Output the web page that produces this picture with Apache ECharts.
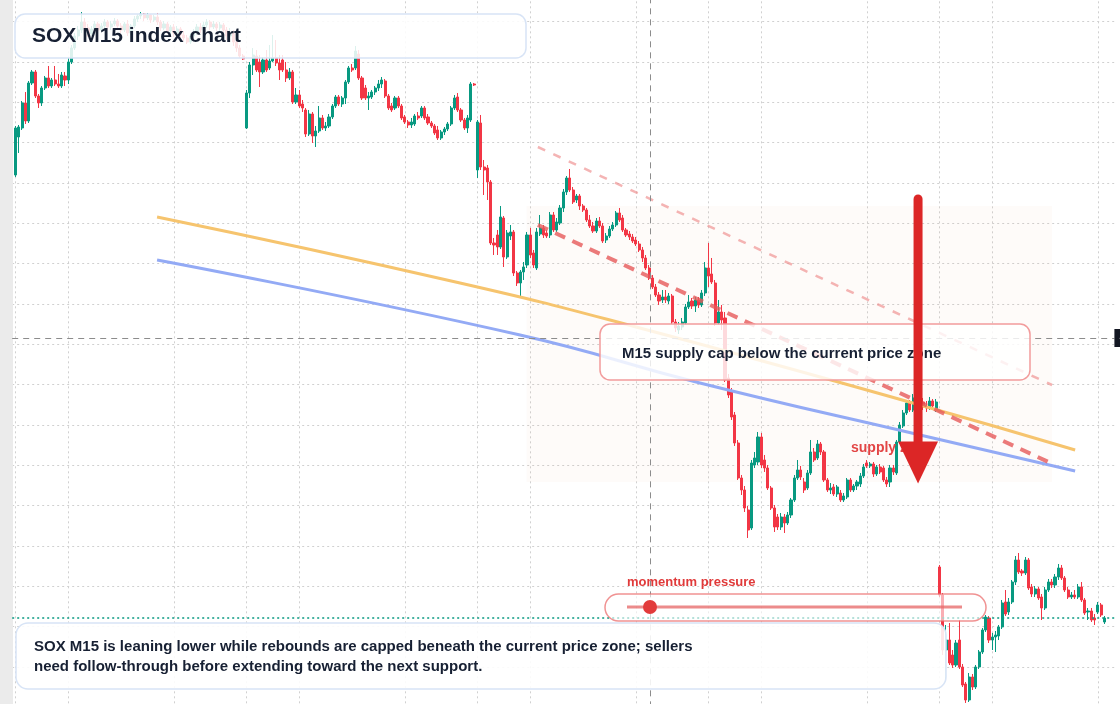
<!DOCTYPE html>
<html>
<head>
<meta charset="utf-8">
<title>SOX M15 index chart</title>
<script src="https://cdn.jsdelivr.net/npm/echarts@6/dist/echarts.min.js"></script>
<style>
  html, body { margin: 0; padding: 0; background: #fff; }
  #chart { width: 1120px; height: 704px; }
</style>
</head>
<body>
<div id="chart"></div>
<script>
// candles: [open, close, low, high]
var sessionA = [
  [4848,4895,4846,4897],[4886,4896,4870,4898],[4895,4920,4893,4922],[4920,4902,4899,4931],[4902,4940,4900,4942],
  [4940,4951,4938,4953],[4951,4927,4925,4953],[4927,4920,4915,4929],[4920,4935,4917,4937],[4935,4945,4933,4947],
  [4945,4937,4935,4957],[4937,4943,4935,4945],[4943,4939,4937,4957],[4939,4937,4935,4949],[4937,4948,4935,4951],
  [4947,4943,4937,4951],[4943,4961,4939,4965],[4961,4975,4959,4978],[4975,4987,4973,4990],[4987,4993,4983,4997],
  [4993,5001,4990,5011],[5001,4995,4992,5005],[4995,4989,4986,4999],[4989,4994,4987,4997],[4994,4999,4992,5002],
  [4999,4993,4990,5001],[4993,4997,4991,5000],[4997,5001,4994,5004],[5001,4996,4993,5003],[4996,4999,4993,5002],
  [4999,5002,4997,5005],[5002,4997,4995,5004],[4997,4993,4990,5000],[4993,4999,4991,5001],[4999,4990,4987,5003],
  [4990,4997,4988,4999],[4997,5004,4995,5007],[5004,5007,5001,5009],[5007,5009,5004,5011],[5009,5005,5002,5010],
  [5005,5008,5003,5010],[5008,5003,5000,5009],[5003,5006,5001,5008],[5006,5001,4998,5010],[5001,4995,4992,5003],
  [4995,4999,4993,5002],[4999,4992,4989,5001],[4992,4996,4988,4998],[4996,4990,4986,4999],[4990,4994,4987,4997],
  [4994,4988,4985,4996],[4988,4985,4982,4992],[4985,4981,4979,4988],[4981,4987,4979,4990],[4987,4991,4985,4994],
  [4991,4996,4988,4999],[4996,4993,4990,5000],[4993,4998,4991,5001],[4998,5001,4995,5004],[5001,4996,4993,5003],
  [4996,4999,4994,5002],[4999,4995,4992,5001],[4995,4998,4992,5001],[4998,4993,4990,5000],[4993,4987,4983,4996],
  [4987,4990,4981,4995],[4990,4981,4977,4993],[4981,4975,4971,4985],[4975,4967,4965,4978],[4967,4964,4963,4969]
];
var sessionB = [
  [4895,4930,4894,4933],[4930,4958,4925,4961],[4958,4968,4948,4975],[4967,4953,4951,4973],[4961,4951,4936,4968],
  [4951,4963,4949,4966],[4963,4953,4951,4973],[4955,4962,4953,4978],[4962,4965,4961,4988],[4965,4960,4957,4983],
  [4960,4953,4943,4968],[4963,4953,4951,4968],[4953,4945,4941,4961],[4945,4951,4943,4955],[4951,4921,4919,4953],
  [4921,4928,4919,4935],[4928,4917,4915,4933],[4919,4915,4911,4923],[4913,4889,4886,4915],[4889,4909,4887,4913],
  [4909,4887,4880,4911],[4887,4892,4876,4897],[4892,4905,4890,4917],[4905,4895,4893,4908],[4895,4897,4892,4901],
  [4897,4906,4895,4909],[4906,4917,4904,4919],[4917,4926,4915,4928],[4926,4919,4917,4928],[4919,4925,4916,4927],
  [4925,4941,4919,4943],[4941,4955,4939,4957],[4955,4953,4951,4959],[4955,4972,4953,4977],[4969,4945,4943,4973],
  [4945,4925,4923,4947],[4935,4925,4923,4938],[4925,4927,4913,4931],[4926,4931,4924,4933],[4931,4935,4928,4937],
  [4935,4939,4932,4943],[4939,4943,4935,4946],[4942,4927,4925,4944],[4927,4915,4913,4929],[4917,4913,4911,4920],
  [4915,4925,4913,4927],[4925,4917,4915,4927],[4917,4905,4903,4919],[4906,4901,4899,4908],[4901,4898,4895,4903],
  [4898,4901,4895,4905],[4899,4907,4897,4909],[4907,4905,4903,4911],[4907,4915,4905,4917],[4915,4905,4903,4917],
  [4906,4900,4898,4909],[4900,4897,4895,4902],[4897,4890,4888,4899],[4893,4885,4883,4897],[4885,4891,4883,4893],
  [4891,4894,4888,4896],[4894,4899,4892,4901],[4899,4915,4897,4917],[4915,4925,4913,4928],[4926,4913,4911,4930],
  [4913,4903,4901,4915],[4903,4895,4893,4905],[4895,4905,4890,4908],[4903,4939,4901,4941],[4939,4938,4937,4940]
];
var sessionC = [
  [4853,4901,4845,4903],[4900,4856,4853,4908],[4856,4853,4828,4863],[4855,4841,4823,4858],[4841,4780,4778,4843],
  [4780,4778,4768,4785],[4788,4776,4768,4793],[4776,4806,4774,4817],[4805,4766,4756,4807],[4766,4790,4764,4793],
  [4787,4791,4783,4798],[4791,4750,4747,4793],[4750,4740,4737,4752],[4740,4751,4727,4753],[4751,4756,4743,4761],
  [4758,4788,4755,4791],[4788,4768,4765,4795],[4770,4758,4755,4773],[4755,4791,4753,4795],[4789,4795,4787,4808],
  [4795,4788,4785,4798],[4790,4787,4785,4793],[4788,4808,4785,4811],[4808,4793,4791,4811],[4793,4801,4791,4805],
  [4800,4815,4798,4818],[4815,4831,4811,4834],[4831,4845,4828,4847],[4845,4833,4831,4854],[4833,4821,4819,4836],
  [4823,4827,4820,4829],[4827,4817,4813,4829],[4817,4813,4811,4819],[4813,4803,4801,4815],[4803,4797,4795,4808],
  [4797,4792,4790,4801],[4792,4802,4790,4805],[4802,4797,4795,4806],[4797,4782,4780,4800],[4783,4787,4780,4790],
  [4787,4794,4785,4797],[4794,4798,4792,4801],[4798,4810,4796,4812],[4810,4803,4801,4815],[4805,4793,4791,4808],
  [4793,4788,4786,4795],[4789,4786,4783,4792],[4786,4782,4780,4789],[4783,4779,4777,4786],[4779,4773,4771,4782],
  [4773,4765,4761,4776],[4765,4755,4753,4768],[4755,4745,4743,4758],[4745,4736,4734,4748],[4736,4728,4726,4739],
  [4728,4722,4718,4731],[4723,4726,4720,4733],[4726,4723,4720,4733],[4722,4727,4719,4730],[4727,4701,4699,4729],
  [4701,4695,4691,4704],[4693,4697,4689,4701],[4696,4701,4693,4705],[4700,4716,4698,4719],[4716,4721,4714,4728],
  [4722,4717,4714,4725],[4717,4723,4711,4726],[4723,4718,4715,4726],[4718,4730,4716,4733],[4730,4755,4727,4761],
  [4755,4747,4736,4780],[4749,4741,4739,4765],[4740,4700,4697,4743],[4700,4711,4698,4723],[4711,4703,4693,4718],
  [4705,4643,4641,4711],[4645,4628,4625,4649],[4631,4606,4603,4635],[4608,4580,4577,4611],[4580,4545,4543,4583],
  [4545,4533,4528,4548],[4533,4515,4511,4537],[4513,4493,4485,4517],[4495,4560,4493,4563],[4558,4565,4555,4571],
  [4561,4586,4558,4591],[4586,4558,4555,4590],[4563,4555,4551,4568],[4555,4535,4533,4558],[4535,4515,4513,4537],
  [4515,4496,4491,4518],[4506,4496,4493,4509],[4496,4506,4493,4510],[4506,4500,4490,4509],[4500,4508,4498,4511],
  [4508,4523,4505,4525],[4523,4545,4521,4548],[4545,4553,4543,4563],[4553,4546,4543,4557],[4541,4533,4530,4545],
  [4535,4550,4533,4553],[4550,4571,4548,4583],[4571,4563,4561,4575],[4565,4579,4563,4583],[4579,4571,4568,4581],
  [4571,4543,4541,4573],[4543,4533,4531,4545],[4533,4535,4529,4540],[4536,4529,4527,4539],[4529,4536,4526,4538],
  [4530,4523,4521,4533],[4523,4527,4521,4530],[4526,4543,4524,4545],[4543,4533,4531,4545],[4533,4537,4531,4539],
  [4537,4541,4533,4543],[4539,4547,4536,4550],[4547,4556,4545,4559],[4560,4557,4555,4563],[4557,4559,4555,4561],
  [4559,4549,4546,4561],[4549,4556,4547,4558],[4556,4551,4549,4559],[4555,4543,4541,4557],[4543,4539,4536,4546],
  [4541,4555,4536,4558],[4555,4551,4548,4558],[4550,4581,4548,4583],[4581,4598,4579,4601],[4597,4610,4595,4613],
  [4610,4620,4608,4623],[4620,4613,4611,4623],[4613,4625,4611,4629],[4623,4628,4618,4633],[4627,4621,4617,4631],
  [4621,4616,4613,4625],[4616,4615,4611,4622],[4615,4622,4613,4626],[4622,4617,4615,4624],[4613,4621,4611,4624]
];
var sessionD = [
  [4456,4428,4426,4458],[4428,4373,4368,4430],[4373,4383,4343,4398],[4383,4360,4358,4400],[4368,4358,4355,4373],
  [4358,4380,4356,4383],[4383,4356,4354,4403],[4356,4338,4336,4359],[4339,4323,4320,4341],[4323,4346,4321,4350],
  [4346,4336,4333,4349],[4336,4356,4334,4358],[4356,4371,4354,4373],[4371,4393,4369,4395],[4393,4406,4391,4408],
  [4405,4383,4380,4407],[4383,4386,4373,4390],[4386,4388,4371,4392],[4387,4396,4383,4398],[4396,4420,4394,4423],
  [4421,4409,4407,4433],[4411,4421,4408,4425],[4421,4441,4419,4443],[4441,4463,4438,4467],[4463,4451,4449,4470],
  [4452,4450,4447,4454],[4450,4463,4448,4466],[4463,4435,4433,4465],[4436,4429,4426,4439],[4429,4434,4426,4437],
  [4434,4425,4423,4436],[4426,4415,4403,4429],[4415,4433,4413,4436],[4433,4441,4431,4444],[4441,4438,4435,4444],
  [4438,4446,4435,4449],[4446,4455,4443,4459],[4455,4445,4443,4458],[4445,4433,4431,4447],[4433,4426,4424,4436],
  [4426,4428,4424,4431],[4428,4426,4424,4433],[4426,4436,4424,4439],[4436,4423,4421,4441],[4423,4410,4408,4425],
  [4411,4412,4403,4415],[4412,4403,4401,4415],[4405,4403,4398,4409],[4411,4418,4409,4421],[4418,4408,4406,4420],
  [4401,4405,4399,4407]
];

// overlay paths: [bar position, price]
var trendOrange = [[43.9, 4806], [135.7, 4740], [190.2, 4695], [272.9, 4620], [322.1, 4573]];
var trendBlue = [[43.9, 4763], [153.9, 4688], [208.4, 4640], [275.1, 4588], [322.1, 4552]];
var capLine = [[159.3, 4798], [316, 4558]];
var upperChannel = [[159.3, 4876], [315.1, 4638]];
var supplyZone = {from: [155.9, 4817], to: [315.1, 4541]};
var arrowShaft = [[274.5, 4824], [274.5, 4570]];
var arrowHead = [[274.5, 4560.5]];
var crossX = 193.3;
var crossPrice = 4685;
var lastPrice = 4405;

// session boundaries (grid lines), counted in bars
var sessionMarks = [0, 16, 48, 70, 86, 118, 140, 156, 188, 210, 226, 258, 280, 296, 328];

var candles = [].concat(sessionA, sessionB, sessionC, sessionD);
var slots = candles.length + 4;          // one empty slot before, three after
var times = [];
var bars = ['-'];
for (var i = 0; i < slots; i++) times.push(String(i));
for (var j = 0; j < candles.length; j++) bars.push(candles[j]);
while (bars.length < slots) bars.push('-');

var UP = '#089981', DOWN = '#f23645';
var FONT = '"Liberation Sans", Arial, sans-serif';
var dotted = {color: '#d0d0d0', width: 1, type: [2, 3]};

var myChart = echarts.init(document.getElementById('chart'));
myChart.setOption({
    animation: false,
    backgroundColor: '#ffffff',
    grid: {left: 12.2, right: 5.6, top: -18.667, bottom: -3.333, containLabel: false, outerBoundsMode: 'none'},
    xAxis: [
        {
            type: 'category',
            data: times,
            boundaryGap: false,
            axisLine: {show: false},
            axisTick: {show: false},
            axisLabel: {show: false},
            splitLine: {
                show: true,
                interval: function (idx) { return sessionMarks.indexOf(idx - 1) >= 0; },
                lineStyle: dotted
            }
        },
        {type: 'value', min: 0, max: slots - 1, show: false}
    ],
    yAxis: {
        type: 'value',
        position: 'right',
        min: 107 * 121 / 3,
        max: 125 * 121 / 3,
        interval: 121 / 3,
        axisLine: {show: false},
        axisTick: {show: false},
        axisLabel: {show: false},
        splitLine: {show: true, lineStyle: dotted}
    },
    series: [
        {
            name: 'SOX',
            type: 'candlestick',
            data: bars,
            barWidth: 2.6,
            itemStyle: {color: UP, color0: DOWN, borderColor: UP, borderColor0: DOWN, borderWidth: 1},
            markLine: {
                silent: true,
                symbol: ['none', 'none'],
                label: {show: false},
                lineStyle: {color: '#089981', type: [2, 3], width: 1.5},
                data: [{yAxis: lastPrice}]
            },
            z: 3
        },
        {
            name: 'zone',
            type: 'line',
            xAxisIndex: 1,
            data: [],
            markArea: {
                silent: true,
                itemStyle: {color: 'rgba(245,190,150,0.06)'},
                data: [[{coord: supplyZone.from}, {coord: supplyZone.to}]]
            },
            markLine: {
                silent: true,
                symbol: ['none', 'none'],
                lineStyle: {color: '#8c8c8c', type: [6, 5], width: 1},
                data: [
                    {xAxis: crossX, label: {show: false}},
                    {
                        yAxis: crossPrice,
                        label: {
                            show: true, position: 'end', distance: 0,
                            formatter: '4,685.00', color: '#fff', backgroundColor: '#131722',
                            padding: [3, 5], fontSize: 12, fontFamily: FONT
                        }
                    }
                ]
            },
            z: 1
        },
        {
            type: 'line', xAxisIndex: 1, data: trendOrange, smooth: true, symbol: 'none', silent: true,
            lineStyle: {color: '#f6c46e', width: 3}, z: 4
        },
        {
            type: 'line', xAxisIndex: 1, data: trendBlue, smooth: true, symbol: 'none', silent: true,
            lineStyle: {color: '#93aaf5', width: 3}, z: 4
        },
        {
            type: 'line', xAxisIndex: 1, data: upperChannel, symbol: 'none', silent: true,
            lineStyle: {color: 'rgba(238,140,140,0.65)', width: 2.5, type: [8, 9]}, z: 4
        },
        {
            type: 'line', xAxisIndex: 1, data: capLine, symbol: 'none', silent: true,
            lineStyle: {color: 'rgba(230,90,90,0.8)', width: 4, type: [11, 8]}, z: 4
        },
        {
            type: 'line', xAxisIndex: 1, data: arrowShaft, symbol: 'none', silent: true,
            lineStyle: {color: '#dc2626', width: 9, cap: 'round'}, z: 20
        },
        {
            type: 'scatter', xAxisIndex: 1, data: arrowHead, symbol: 'triangle', symbolRotate: 180,
            symbolSize: [40, 42], silent: true, itemStyle: {color: '#dc2626', opacity: 1}, z: 20
        }
    ],
    graphic: {
        elements: [
            {type: 'rect', z: 1, shape: {x: 0, y: 0, width: 13, height: 704}, style: {fill: '#ebebeb'}},
            {
                type: 'rect', z: 10,
                shape: {x: 15, y: 14, width: 511, height: 44, r: 10},
                style: {fill: 'rgba(255,255,255,0.86)', stroke: '#d8e4f6', lineWidth: 1.5}
            },
            {
                type: 'text', z: 11,
                style: {x: 32, y: 36, text: 'SOX M15 index chart', fill: '#172033',
                        font: 'bold 21px ' + FONT, verticalAlign: 'middle', textVerticalAlign: 'middle'}
            },
            {
                type: 'rect', z: 10,
                shape: {x: 600, y: 324, width: 430, height: 56, r: 10},
                style: {fill: 'rgba(255,255,255,0.82)', stroke: '#f29c9c', lineWidth: 1.5}
            },
            {
                type: 'text', z: 11,
                style: {x: 622, y: 354, text: 'M15 supply cap below the current price zone', fill: '#172033',
                        font: 'bold 15px ' + FONT, verticalAlign: 'middle', textVerticalAlign: 'middle'}
            },
            {
                type: 'text', z: 15,
                style: {x: 851, y: 448, text: 'supply zone', fill: '#e24545',
                        font: 'bold 14px ' + FONT, verticalAlign: 'middle', textVerticalAlign: 'middle'}
            },
            {
                type: 'text', z: 11,
                style: {x: 627, y: 582, text: 'momentum pressure', fill: '#e03a3a',
                        font: 'bold 13px ' + FONT, verticalAlign: 'middle', textVerticalAlign: 'middle'}
            },
            {
                type: 'rect', z: 10,
                shape: {x: 605, y: 594, width: 381, height: 27, r: 13.5},
                style: {fill: 'rgba(255,255,255,0.6)', stroke: 'rgba(235,110,110,0.75)', lineWidth: 1.5}
            },
            {
                type: 'line', z: 11,
                shape: {x1: 627, y1: 607, x2: 962, y2: 607},
                style: {stroke: 'rgba(230,100,100,0.75)', lineWidth: 3}
            },
            {type: 'circle', z: 12, shape: {cx: 650, cy: 607, r: 7}, style: {fill: '#e23b3b'}},
            {
                type: 'rect', z: 10,
                shape: {x: 16, y: 623, width: 930, height: 66, r: 12},
                style: {fill: 'rgba(255,255,255,0.88)', stroke: '#d8e4f6', lineWidth: 1.5}
            },
            {
                type: 'text', z: 11,
                style: {x: 34, y: 647,
                        text: 'SOX M15 is leaning lower while rebounds are capped beneath the current price zone; sellers',
                        fill: '#172033', font: 'bold 15px ' + FONT, verticalAlign: 'middle', textVerticalAlign: 'middle'}
            },
            {
                type: 'text', z: 11,
                style: {x: 34, y: 667,
                        text: 'need follow-through before extending toward the next support.',
                        fill: '#172033', font: 'bold 15px ' + FONT, verticalAlign: 'middle', textVerticalAlign: 'middle'}
            }
        ]
    }
});
</script>
</body>
</html>
